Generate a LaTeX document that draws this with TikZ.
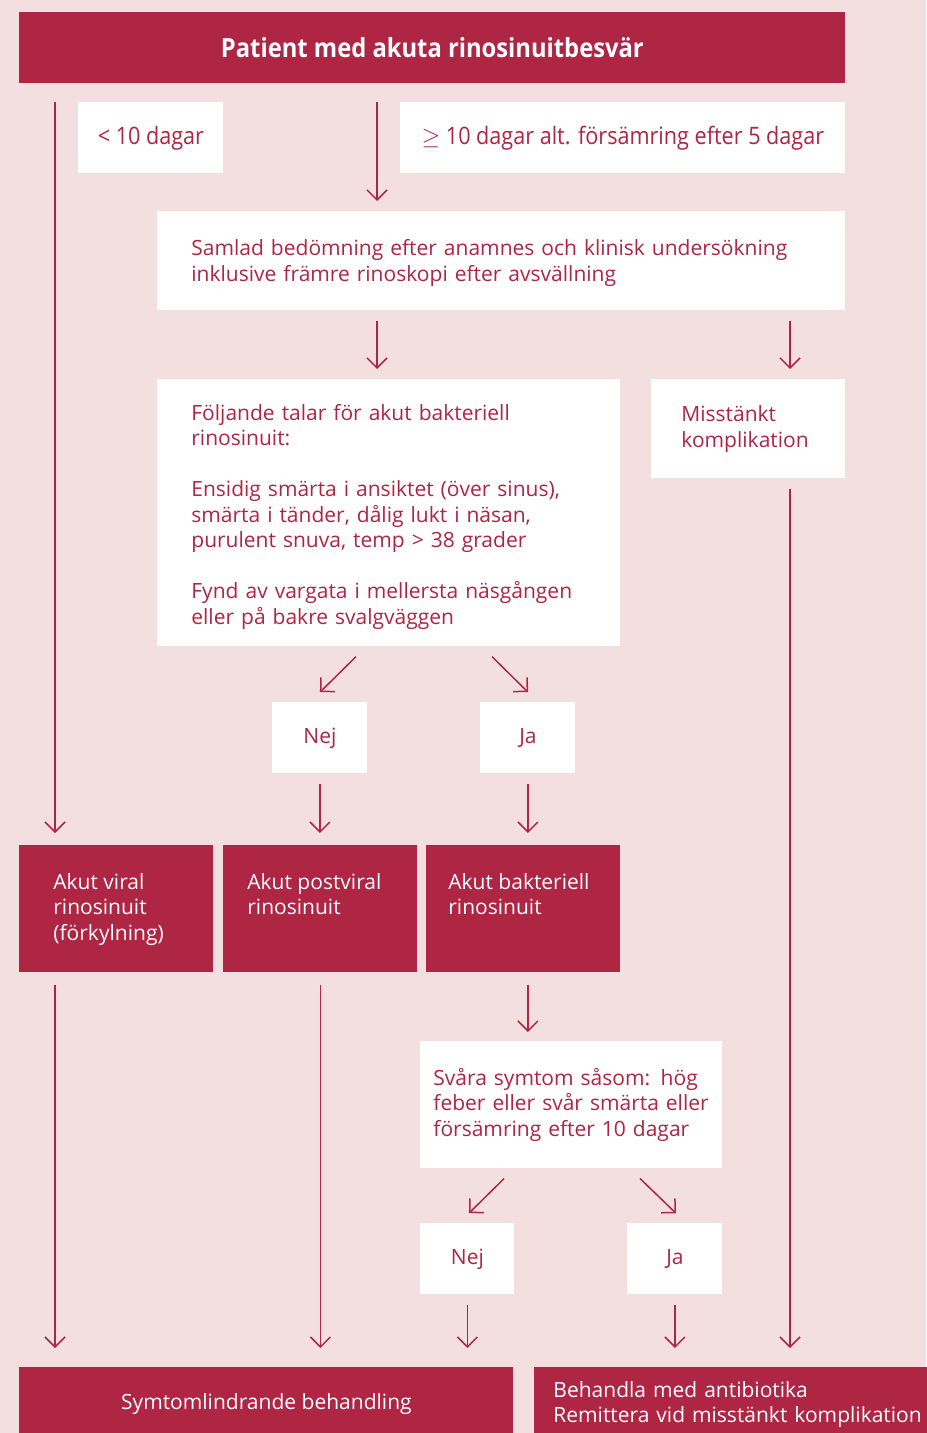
\documentclass[tikz,border=0pt]{standalone}
\usepackage{fontspec}
\setmainfont{Open Sans}
\newfontfamily\condfont{Open Sans}[FakeStretch=0.9]
\usetikzlibrary{arrows.meta,calc}
\definecolor{rkred}{RGB}{175,37,68}
\definecolor{rkpink}{RGB}{243,223,223}
\newcommand\toptext[2]{\parbox[c][63.5pt][t]{#1}{\vspace*{13pt}\strut#2}}
\tikzset{
  wbox/.style={fill=white, text=rkred, anchor=north west, inner ysep=0pt, align=left,
    font=\fontsize{10.5}{12.75}\selectfont},
  cbox/.style={fill=white, text=rkred, anchor=north west, inner sep=0pt, align=center,
    font=\fontsize{10.5}{12.75}\selectfont},
  dbox/.style={fill=rkred, text=white, anchor=north west, inner ysep=0pt, align=left,
    font=\fontsize{10.5}{12.75}\selectfont},
  arr/.style={draw=rkred, line width=0.75pt, shorten <=5pt, shorten >=5pt,
    -{Straight Barb[length=5pt, width=10pt]}},
  diag/.style={arr, shorten <=7pt, shorten >=7pt}
}
\begin{document}
\begin{tikzpicture}[x=0.5pt, y=-0.5pt]
    \useasboundingbox (0,0) rectangle (926,1433);
    \fill[rkpink] (0,0) rectangle (926,1433);
    % columns of the long arrows
    \coordinate (colA) at (55,0);
    \coordinate (colB) at (377,0);
    \coordinate (colC) at (790,0);
    % boxes
    \node[cbox, fill=rkred, text=white, minimum width=413pt, minimum height=35.5pt,
      font=\condfont\bfseries\fontsize{13.2}{15}\selectfont] (top) at (19,12) {Patient med akuta rinosinuitbesvär};
    \node[cbox, minimum width=72.5pt, minimum height=35.5pt, font=\condfont\fontsize{12}{14}\selectfont] (short) at (78,102) {< 10 dagar};
    \node[cbox, minimum width=222.5pt, minimum height=35.5pt, font=\condfont\fontsize{12}{14}\selectfont] (long) at (400,102) {$\geq$ 10 dagar alt. försämring efter 5 dagar};
    \node[wbox, text width=310pt, inner xsep=17pt, minimum height=49.5pt] (assess) at (157,211)
      {\\[-2.5pt]Samlad bedömning efter anamnes och klinisk undersökning\\inklusive främre rinoskopi efter avsvällning};
    \node[wbox, text width=197.5pt, inner xsep=17pt, minimum height=133.5pt] (signs) at (157,379)
      {\\[-1pt]Följande talar för akut bakteriell\\rinosinuit:\\[12.75pt]Ensidig smärta i ansiktet (över sinus),\\smärta i tänder, dålig lukt i näsan,\\purulent snuva, temp > 38 grader\\[12.75pt]Fynd av vargata i mellersta näsgången\\eller på bakre svalgväggen};
    \node[wbox, text width=67pt, inner xsep=15pt, minimum height=49.5pt] (compl) at (651,379) {Misstänkt\\komplikation};
    \node[cbox, minimum width=47.5pt, minimum height=35.5pt] (no1) at (272,702) {Nej};
    \node[cbox, minimum width=47.5pt, minimum height=35.5pt] (yes1) at (480,702) {Ja};
    \node[dbox, inner xsep=17pt] (viral) at (19,845) {\toptext{63pt}{Akut viral\\rinosinuit\\(förkylning)}};
    \node[dbox, inner xsep=12pt] (postviral) at (223,845) {\toptext{73pt}{Akut postviral\\rinosinuit}};
    \node[dbox, inner xsep=11pt] (bacterial) at (426,845) {\toptext{75pt}{Akut bakteriell\\rinosinuit}};
    \node[wbox, text width=138pt, inner xsep=6.5pt, minimum height=63.5pt] (severe) at (420,1041)
      {Svåra symtom såsom: hög\\feber eller svår smärta eller\\försämring efter 10 dagar};
    \node[cbox, minimum width=47pt, minimum height=35.5pt] (no2) at (420,1223) {Nej};
    \node[cbox, minimum width=47.5pt, minimum height=35.5pt] (yes2) at (627,1223) {Ja};
    \node[cbox, fill=rkred, text=white, minimum width=247pt, minimum height=37pt] (symp) at (19,1367) {Symtomlindrande behandling};
    \node[dbox, text width=187pt, inner xsep=9.5pt, minimum height=37pt] (treat) at (534,1367)
      {Behandla med antibiotika\\Remittera vid misstänkt komplikation};
    % connectors
    \draw[arr, shorten <=9pt, shorten >=6pt] (top.south -| colA) -- (viral.north -| colA);
    \draw[arr, shorten <=9pt] (top.south -| colB) -- (assess.north -| colB);
    \draw[arr] (assess.south -| colB) -- (signs.north -| colB);
    \draw[arr] (assess.south -| colC) -- (compl.north -| colC);
    \draw[diag] ($(signs.south west)+(209,0)$) -- ($(no1.north west)+(38,0)$);
    \draw[diag] ($(signs.south west)+(325,0)$) -- ($(yes1.north west)+(58,0)$);
    \draw[arr, shorten >=6pt] (no1.south) -- (postviral.north -| no1.south);
    \draw[arr, shorten >=6pt] (yes1.south) -- (bacterial.north -| yes1.south);
    \draw[arr, shorten <=6pt, shorten >=9.5pt] (viral.south -| colA) -- (symp.north -| colA);
    \draw[arr, shorten <=6pt, shorten >=9.5pt] (postviral.south) -- (symp.north -| postviral.south);
    \draw[arr, shorten <=6pt, shorten >=4.5pt] (bacterial.south -| yes1.south) -- (severe.north -| yes1.south);
    \draw[diag] ($(severe.south west)+(94,0)$) -- ($(no2.north west)+(39,0)$);
    \draw[diag] ($(severe.south west)+(210,0)$) -- ($(yes2.north west)+(59,0)$);
    \draw[arr, shorten >=9.5pt] (no2.south) -- (symp.north -| no2.south);
    \draw[arr, shorten >=9.5pt] (yes2.south) -- (treat.north -| yes2.south);
    \draw[arr, shorten >=9.5pt] (compl.south -| colC) -- (treat.north -| colC);
\end{tikzpicture}
\end{document}
